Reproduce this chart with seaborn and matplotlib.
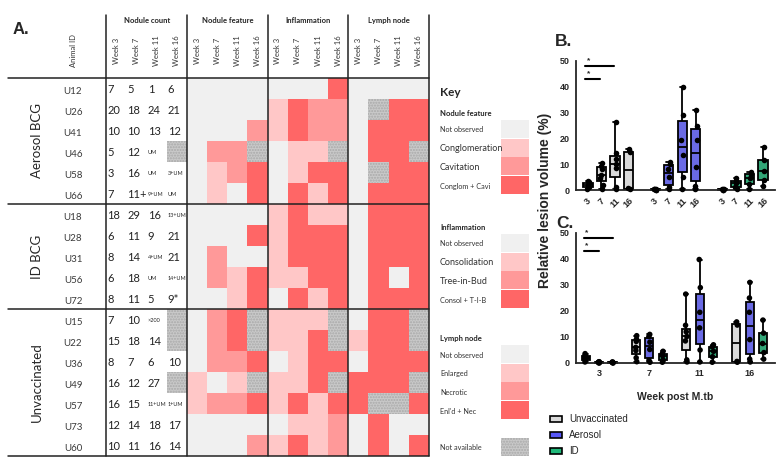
import matplotlib
matplotlib.use("Agg")
import matplotlib.pyplot as plt
import numpy as np
import pandas as pd
import seaborn as sns
from matplotlib.colors import ListedColormap
from matplotlib.patches import Rectangle

W, H = 782, 468

# ---- panel A: scoring table ----
animal_ids = ["U12", "U26", "U41", "U46", "U58", "U66",
              "U18", "U28", "U31", "U56", "U72",
              "U15", "U22", "U36", "U49", "U57", "U73", "U60"]
group_names = ["Aerosol BCG", "ID BCG", "Unvaccinated"]
group_sizes = [6, 5, 7]
section_names = ["Nodule count", "Nodule feature", "Inflammation", "Lymph node"]
week_labels = ["Week 3", "Week 7", "Week 11", "Week 16"]

# None = not available
nodule_count = [
    ["7", "5", "1", "6"],
    ["20", "18", "24", "21"],
    ["10", "10", "13", "12"],
    ["5", "12", "UM", None],
    ["3", "16", "UM", "3+UM"],
    ["7", "11+", "9+UM", "UM"],
    ["18", "29", "16", "13+UM"],
    ["6", "11", "9", "21"],
    ["8", "14", "4+UM", "21"],
    ["6", "18", "UM", "14+UM"],
    ["8", "11", "5", "9*"],
    ["7", "10", ">200", None],
    ["15", "18", "14", None],
    ["8", "7", "6", "10"],
    ["16", "12", "27", None],
    ["16", "15", "11+UM", "1+UM"],
    ["12", "14", "18", "17"],
    ["10", "11", "16", "14"],
]

# 0 not observed, 1-3 increasing severity, -1 not available
nodule_feature = [
    [0, 0, 0, 0], [0, 0, 0, 0], [0, 0, 0, 2], [0, 2, 2, -1], [0, 1, 2, 3], [0, 1, 0, 3],
    [0, 0, 0, 0], [0, 0, 0, 3], [0, 2, 0, 0], [0, 2, 1, 3], [0, 0, 1, 3],
    [0, 2, 3, -1], [0, 2, 3, -1], [0, 2, 2, 3], [1, 0, 1, -1], [1, 2, 2, 3], [0, 0, 0, 0], [0, 0, 0, 2],
]
inflammation = [
    [0, 0, 0, 3], [1, 3, 2, 2], [1, 3, 2, 2], [0, 1, 1, -1], [0, 1, 3, 3], [0, 3, 1, 3],
    [1, 3, 1, 1], [1, 3, 3, 3], [1, 3, 3, 3], [1, 1, 3, 3], [0, 3, 1, 3],
    [1, 1, 1, -1], [1, 1, 3, -1], [0, 1, 3, 3], [1, 1, 3, -1], [1, 3, 1, 3], [0, 1, 1, 2], [1, 3, 1, 2],
]
lymph_node = [
    [0, 0, 0, 0], [0, -1, 3, 3], [0, 3, 3, 3], [0, 3, 3, -1], [0, -1, 3, 3], [0, 3, 3, 3],
    [0, 3, 3, 3], [0, 3, 3, 3], [0, 3, 3, 3], [0, 3, 0, 3], [0, 3, 3, 3],
    [0, 3, 3, -1], [1, 3, 3, -1], [0, 3, 3, 3], [3, 3, 3, -1], [3, -1, -1, 3], [0, 3, 0, 0], [0, 3, 0, 3],
]

key_sections = [
    ("Nodule feature", ["Not observed", "Conglomeration", "Cavitation", "Conglom + Cavi"], [5.2, 6.5, 6.5, 5.2]),
    ("Inflammation", ["Not observed", "Consolidation", "Tree-in-Bud", "Consol + T-I-B"], [5.2, 6.5, 6.5, 5.2]),
    ("Lymph node", ["Not observed", "Enlarged", "Necrotic", "Enl'd + Nec"], [5.2, 5.2, 5.2, 5.2]),
]

# ---- panels B / C: relative lesion volume (%) ----
weeks = [3, 7, 11, 16]
vaccine_groups = ["Unvaccinated", "Aerosol", "ID"]
unvacc_volume = [
    [3.6, 3.0, 2.6, 2.0, 1.5, 1.0, 0.4],
    [10.5, 9.2, 8.3, 6.0, 4.8, 2.0, 0.5],
    [26.5, 14.5, 12.0, 10.2, 8.5, 1.2, 0.4],
    [15.8, 14.6, 0.6, 0.3],
]
aerosol_volume = [
    [0.5, 0.4, 0.3, 0.2, 0.1, 0.0],
    [11.0, 10.2, 8.0, 5.2, 1.0, 0.3],
    [39.8, 29.0, 19.5, 13.5, 5.0, 0.4],
    [31.0, 25.0, 19.5, 9.0, 1.5, 0.4],
]
id_volume = [
    [0.4, 0.3, 0.2, 0.1, 0.0],
    [4.5, 3.5, 2.8, 1.2, 0.3],
    [7.0, 6.2, 4.5, 2.4, 0.3],
    [16.5, 11.5, 7.5, 4.0, 1.5],
]
sig_b = [(3, 7, 43), (3, 11, 48)]
sig_c = [("Unvaccinated", "Aerosol", 43), ("Unvaccinated", "ID", 48)]

level_colors = ["#f0f0f0", "#ffc7c7", "#ff9999", "#ff6666"]
na_color = "#c9c9c9"
box_colors = {"Unvaccinated": "#d9d9d9", "Aerosol": "#5656f8", "ID": "#1fb97a"}

sns.set_style("white")
plt.rcParams["font.family"] = ["Liberation Sans", "DejaVu Sans"]

fig = plt.figure(figsize=(W / 100, H / 100), dpi=100)


def px_axes(x0, y0, x1, y1):
    return fig.add_axes([x0 / W, 1 - y1 / H, (x1 - x0) / W, (y1 - y0) / H])


def na_patch(x, y):
    return Rectangle((x, y), 1, 1, facecolor=na_color, edgecolor="#a9a9a9",
                     hatch="......", linewidth=0)


# ---------------- panel A ----------------
ax = px_axes(8, 15, 429, 456)
codes = np.hstack([np.array(nodule_feature), np.array(inflammation), np.array(lymph_node)])
na_mask = codes < 0
sns.heatmap(codes, ax=ax, mask=na_mask, cmap=ListedColormap(level_colors), vmin=-0.5, vmax=3.5,
            cbar=False, xticklabels=False, yticklabels=False, linewidths=0)
for r, c in zip(*np.where(na_mask)):
    ax.add_patch(na_patch(c, r))
for r, row in enumerate(nodule_count):
    for c, val in enumerate(row):
        if val is None:
            ax.add_patch(na_patch(c - 4, r))
            continue
        small = "UM" in val or ">" in val
        ax.text(c - 4 + 0.05, r + 0.55, val, fontsize=4 if small else 8, family="Lato",
                ha="left", va="center", color="#222222")

n_rows = len(animal_ids)
left = -8.875
ax.set_xlim(left, 12)
ax.set_ylim(n_rows, -3)
ax.axis("off")

bounds = np.cumsum([0] + group_sizes)
for yb in bounds:
    ax.plot([left, 12], [yb, yb], color="#222222", lw=1.1, clip_on=False)
for xb in [-4, 0, 4, 8, 12]:
    ax.plot([xb, xb], [-3, n_rows], color="#222222", lw=1.1, clip_on=False)

for s, name in enumerate(section_names):
    x0 = -4 + 4 * s
    ax.text(x0 + 2, -2.75, name, fontsize=5.5, fontweight="bold", family="Lato",
            ha="center", va="center")
    for w, wl in enumerate(week_labels):
        ax.text(x0 + w + 0.5, -1.3, wl, fontsize=5.5, family="Lato", rotation=90,
                ha="center", va="center", color="#333333")
ax.text(-5.65, -1.3, "Animal ID", fontsize=5.5, family="Lato", rotation=90,
        ha="center", va="center", color="#333333")
for r, aid in enumerate(animal_ids):
    ax.text(-5.65, r + 0.62, aid, fontsize=7, family="Lato", ha="center", va="center", color="#3a3a3a")
for g, name in enumerate(group_names):
    ax.text(-7.45, (bounds[g] + bounds[g + 1]) / 2, name, fontsize=9.5, family="Lato",
            rotation=90, ha="center", va="center")

# ---------------- panel B ----------------
rows_b, slots = [], []
for gi, (grp, vols) in enumerate(zip(vaccine_groups, [unvacc_volume, aerosol_volume, id_volume])):
    if gi > 0:
        slots.append(f"gap{gi}")
    for wk, vals in zip(weeks, vols):
        slot = f"{grp} {wk}"
        slots.append(slot)
        rows_b += [{"group": grp, "week": wk, "slot": slot, "volume": v} for v in vals]
df = pd.DataFrame(rows_b)

axb = px_axes(576, 61, 775, 190)
sns.boxplot(data=df, x="slot", y="volume", hue="group", order=slots, hue_order=vaccine_groups,
            palette=box_colors, dodge=False, width=0.7, whis=(0, 100), showfliers=False,
            linecolor="black", linewidth=1.3, legend=False, ax=axb)
sns.stripplot(data=df, x="slot", y="volume", order=slots, color="black", size=4,
              jitter=0.1, ax=axb)
slot_pos = {s: i for i, s in enumerate(slots)}
tick_slots = [s for s in slots if not s.startswith("gap")]
axb.set_xticks([slot_pos[s] for s in tick_slots])
axb.set_xticklabels([s.split()[-1] for s in tick_slots], rotation=45, ha="center")
axb.set_xlim(-0.89, 13.89)
for a, b, h in sig_b:
    xa, xb = slot_pos[f"Unvaccinated {a}"], slot_pos[f"Unvaccinated {b}"]
    axb.plot([xa - 0.2, xb - 0.1], [h, h], color="black", lw=1.5, clip_on=False)
    axb.text(xa - 0.05, h + 0.6, "*", fontsize=6, fontweight="bold", ha="left", va="bottom")

# ---------------- panel C ----------------
axc = px_axes(576, 233, 775, 363)
sns.boxplot(data=df, x="week", y="volume", hue="group", order=weeks, hue_order=vaccine_groups,
            palette=box_colors, dodge=True, width=0.8, gap=0.4, whis=(0, 100), showfliers=False,
            linecolor="black", linewidth=1.3, legend=False, ax=axc)
sns.stripplot(data=df, x="week", y="volume", hue="group", order=weeks, hue_order=vaccine_groups,
              palette={g: "black" for g in vaccine_groups}, dodge=True, size=4, jitter=0.05,
              legend=False, ax=axc)
axc.set_xlim(-0.46, 3.5)
offs = {g: (i - 1) * 0.8 / 3 for i, g in enumerate(vaccine_groups)}
for a, b, h in sig_c:
    axc.plot([offs[a] - 0.03, offs[b]], [h, h], color="black", lw=1.5, clip_on=False)
    axc.text(offs[a] - 0.01, h + 0.6, "*", fontsize=6, fontweight="bold", ha="left", va="bottom")

for a in (axb, axc):
    a.set_ylim(0, 50)
    a.set_yticks([0, 10, 20, 30, 40, 50])
    a.set_xlabel("")
    a.set_ylabel("")
    sns.despine(ax=a)
    for sp in ("left", "bottom"):
        a.spines[sp].set_linewidth(1.3)
    a.tick_params(length=3, width=1.2, labelsize=6.5, pad=1.5)
    for lab in a.get_xticklabels() + a.get_yticklabels():
        lab.set_fontweight("bold")
    for art in a.collections + a.patches + a.lines:
        art.set_clip_on(False)

# ---------------- overlay: labels and key ----------------
ov = fig.add_axes([0, 0, 1, 1], facecolor="none")
ov.set_xlim(0, W)
ov.set_ylim(H, 0)
ov.axis("off")

ov.text(13, 30, "A.", fontsize=12, fontweight="bold", va="center")
ov.text(555, 42, "B.", fontsize=12.5, fontweight="bold", va="center")
ov.text(556, 223, "C.", fontsize=12.5, fontweight="bold", va="center")
ov.text(545, 200, "Relative lesion volume (%)", fontsize=10, fontweight="bold",
        rotation=90, ha="center", va="center")
ov.text(675, 397, "Week post M.tb", fontsize=7.5, fontweight="bold", ha="center", va="center")

for i, g in enumerate(vaccine_groups):
    yc = 419 + 16 * i
    ov.add_patch(Rectangle((550, yc - 3), 12, 6, facecolor=box_colors[g], edgecolor="black", lw=1.2))
    ov.text(569, yc, g, fontsize=7, ha="left", va="center")

ov.text(440, 93, "Key", fontsize=8.5, fontweight="bold", family="Lato", va="center")
sw_h, sw_step = 18, 18.7
for (title, items, sizes), top in zip(key_sections, [120, 234, 345]):
    ov.text(440, top - 7, title, fontsize=5.5, fontweight="bold", family="Lato", va="center")
    for k, (item, fs) in enumerate(zip(items, sizes)):
        y0 = top + k * sw_step
        ov.add_patch(Rectangle((501, y0), 28, sw_h, facecolor=level_colors[k], edgecolor="none"))
        ov.text(440, y0 + sw_h / 2 + 1, item, fontsize=fs, family="Lato", va="center", color="#333333")
ov.add_patch(Rectangle((501, 438), 28, sw_h, facecolor=na_color, edgecolor="#a9a9a9",
                       hatch="......", linewidth=0))
ov.text(440, 448, "Not available", fontsize=5.2, family="Lato", va="center", color="#333333")

fig.savefig("out.png", dpi=100)
